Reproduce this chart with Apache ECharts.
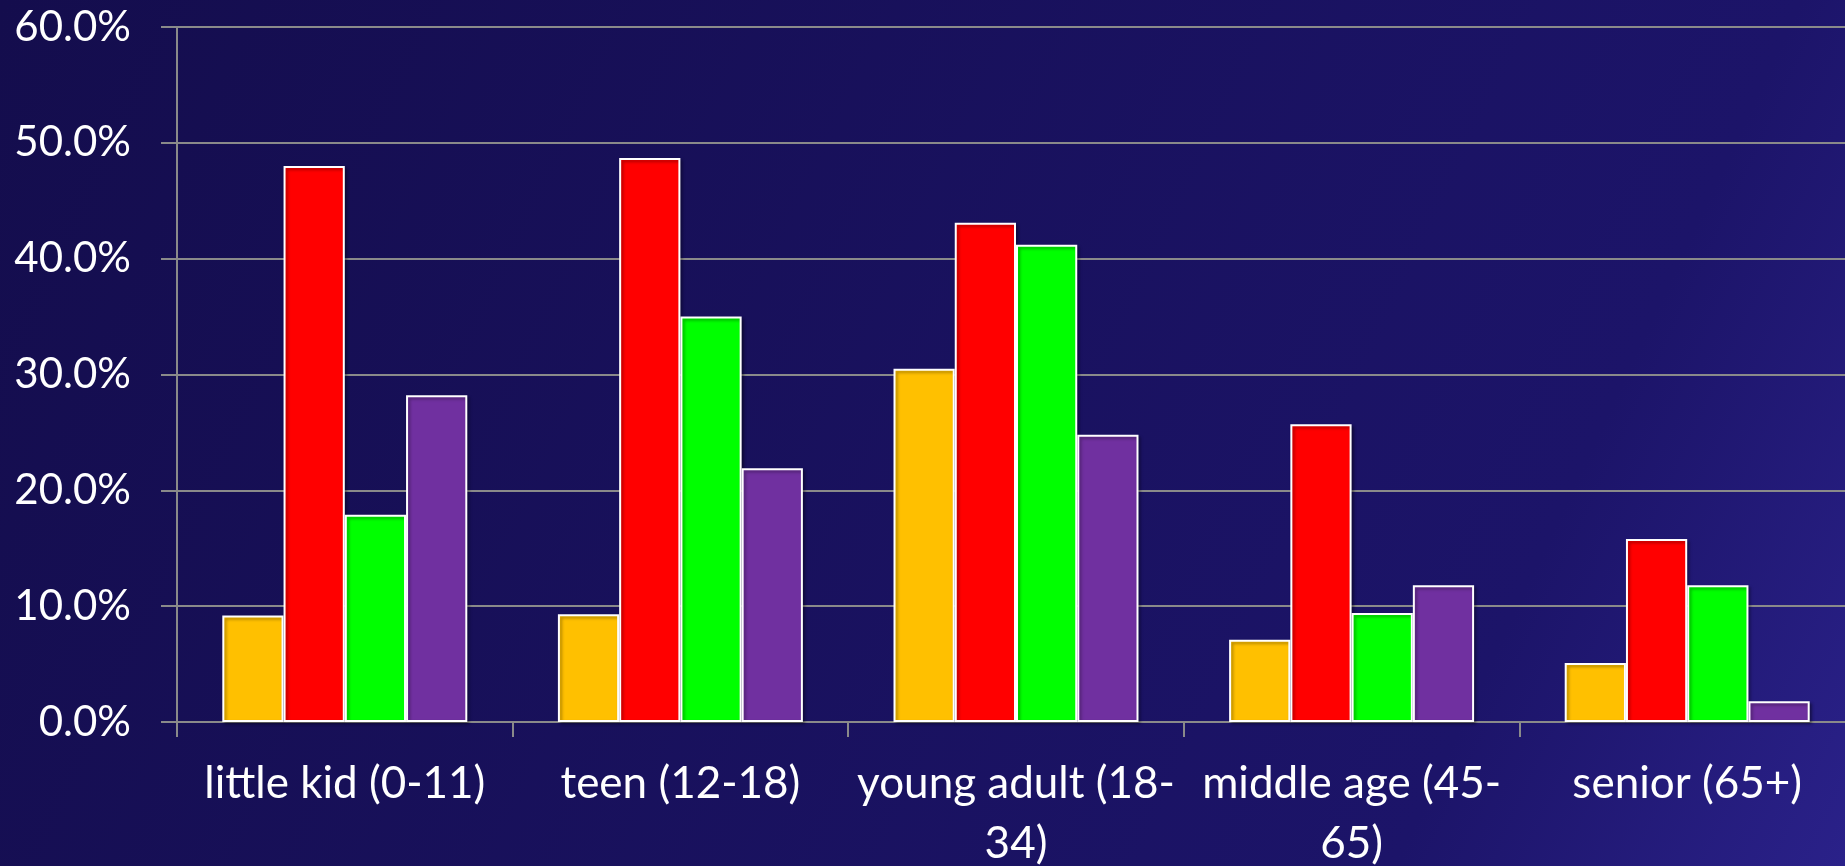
<!DOCTYPE html>
<html>
<head>
<meta charset="utf-8">
<script src="https://cdn.jsdelivr.net/npm/echarts@6/dist/echarts.min.js"></script>
<style>
	html, body {margin:0; padding:0; overflow:hidden;}
	#main {width:1845px; height:866px;}
</style>
</head>
<body>
<div id="main"></div>
<script>
// age groups on the x axis
var categories = ['little kid (0-11)', 'teen (12-18)', 'young adult (18-\n34)', 'middle age (45-\n65)', 'senior (65+)'];
var yTicks = [0, 10, 20, 30, 40, 50, 60];

// percent values
var yellowVals = [9.2, 9.3, 30.5, 7.1, 5.1];
var redVals = [48.0, 48.7, 43.1, 25.7, 15.8];
var greenVals = [17.9, 35.0, 41.2, 9.4, 11.8];
var purpleVals = [28.2, 21.9, 24.8, 11.8, 1.8];

var colors = ['#FFC000', '#FF0000', '#00FF00', '#7030A0'];
var seriesVals = [yellowVals, redVals, greenVals, purpleVals];

var chart = echarts.init(document.getElementById('main'));

var series = [];
for(var i = 0; i < seriesVals.length; i++){
	series.push({
		type: 'bar',
		data: seriesVals[i],
		barGap: '0%',
		barCategoryGap: '27%',
		itemStyle: {
			color: colors[i],
			borderColor: '#ffffff',
			borderWidth: 2,
			shadowColor: 'rgba(0,0,0,0.35)',
			shadowBlur: 3,
			shadowOffsetX: 2,
			shadowOffsetY: 2
		}
	});
}

var option = {
	backgroundColor: {
		type: 'linear', x: 0, y: 0, x2: 1, y2: 1,
		colorStops: [
			{offset: 0, color: '#140d4d'},
			{offset: 0.8, color: '#1c1469'},
			{offset: 1, color: '#2a2189'}
		]
	},
	animation: false,
	grid: {left: 177, right: -10, top: 27, bottom: 144, containLabel: false, outerBoundsMode: 'none'},
	xAxis: {
		type: 'category',
		data: categories,
		axisLine: {lineStyle: {color: '#8a8a8a', width: 2}},
		axisTick: {show: true, length: 15, lineStyle: {color: '#8a8a8a', width: 2}},
		axisLabel: {
			color: '#ffffff',
			fontFamily: 'Lato',
			fontSize: 44,
			lineHeight: 60,
			margin: 32,
			interval: 0
		}
	},
	yAxis: {
		type: 'value',
		min: yTicks[0],
		max: yTicks[yTicks.length - 1],
		interval: 10,
		axisLine: {show: true, lineStyle: {color: '#8a8a8a', width: 2}},
		axisTick: {show: true, length: 16, lineStyle: {color: '#8a8a8a', width: 2}},
		splitLine: {lineStyle: {color: '#8a8a8a', width: 2}},
		axisLabel: {
			color: '#ffffff',
			fontFamily: 'Lato',
			fontSize: 42,
			margin: 46,
			formatter: function(v){ return v.toFixed(1) + '%'; }
		}
	},
	series: series
};

chart.setOption(option);
</script>
</body>
</html>
